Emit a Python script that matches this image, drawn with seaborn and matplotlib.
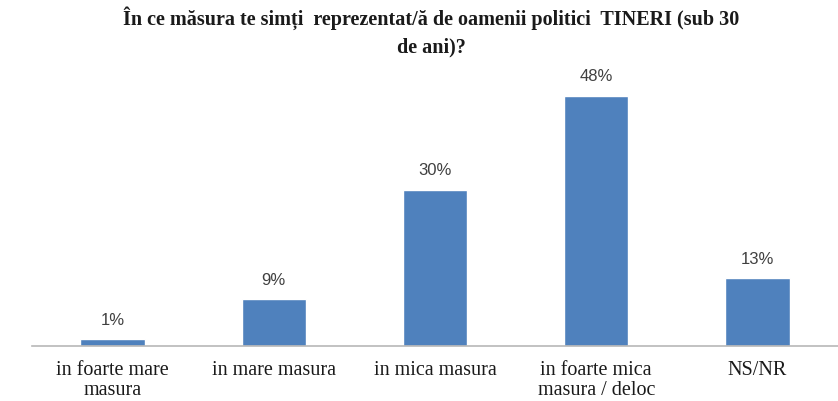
import matplotlib
matplotlib.use("Agg")
import matplotlib.pyplot as plt
import seaborn as sns
import pandas as pd

categories = ["in foarte mare\nmasura", "in mare masura", "in mica masura",
              "in foarte mica\nmasura / deloc", "NS/NR"]
values = [1.3, 9, 30, 48, 13]
labels = ["1%", "9%", "30%", "48%", "13%"]

sns.set_theme(style="white")
plt.rcParams["font.family"] = ["Liberation Serif", "DejaVu Serif"]

df = pd.DataFrame({"cat": categories, "val": values})

fig = plt.figure(figsize=(8.38, 4.02), dpi=100)
ax = fig.add_axes([32 / 838, 55 / 402, 806 / 838, (347 - 55) / 402])

sns.barplot(data=df, x="cat", y="val", color="#4f81bd", width=0.4,
            saturation=1, ax=ax)

for i, (v, t) in enumerate(zip(values, labels)):
    ax.text(i, v + 2.4, t, ha="center", va="bottom", fontsize=12,
            color="#404040", family=["Liberation Sans", "DejaVu Sans"],
            clip_on=False)

ax.set_xlim(-0.5, 4.5)
ax.set_ylim(0, 56)
ax.set_xlabel("")
ax.set_ylabel("")
ax.set_yticks([])
for s in ["top", "right", "left"]:
    ax.spines[s].set_visible(False)
ax.spines["bottom"].set_color("#b8b8b8")
ax.spines["bottom"].set_linewidth(1.2)
ax.tick_params(axis="x", length=0, pad=10, labelsize=14.5, colors="#1a1a1a")
for lbl in ax.get_xticklabels():
    lbl.set_linespacing(1.08)

fig.text(0.515, 0.985,
         "În ce măsura te simți  reprezentat/ă de oamenii politici  TINERI (sub 30\nde ani)?",
         ha="center", va="top", fontsize=14.5, fontweight="bold",
         color="#1a1a1a", linespacing=1.5)

fig.savefig("out.png", dpi=100)
